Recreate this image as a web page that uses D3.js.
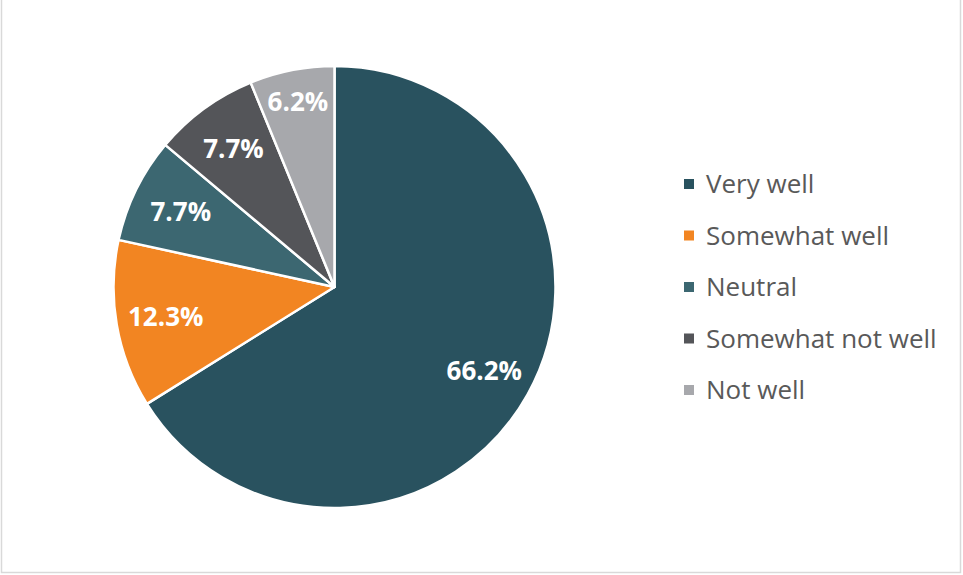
<!DOCTYPE html>
<html>
<head>
<meta charset="utf-8">
<script src="https://cdn.jsdelivr.net/npm/d3@7"></script>
<style>
  html, body { margin: 0; padding: 0; background: #fff; }
  svg { display: block; }
</style>
</head>
<body>
<svg id="chart" width="963" height="575"></svg>
<script>
// Survey responses, percent of respondents
const categories = ["Very well", "Somewhat well", "Neutral", "Somewhat not well", "Not well"];
const values = [66.2, 12.3, 7.7, 7.7, 6.2];
const colors = ["#29525f", "#f28522", "#3c6771", "#545559", "#a7a8ac"];

const svg = d3.select("#chart");
const W = 963, H = 575;

// frame: left, right and bottom edges
svg.append("path")
  .attr("d", `M1.5,0 V${H - 2.5} H${W - 2.5} V0`)
  .attr("fill", "none")
  .attr("stroke", "#d9d9d9")
  .attr("stroke-width", 1.5);

const cx = 334.5, cy = 287, R = 221;
const color = d3.scaleOrdinal().domain(categories).range(colors);

const data = categories.map((c, i) => ({ name: c, value: values[i] }));
const pie = d3.pie().sort(null).value(d => d.value);
const arc = d3.arc().innerRadius(0).outerRadius(R);

const g = svg.append("g").attr("transform", `translate(${cx},${cy})`);
const arcs = pie(data);

g.selectAll("path.slice")
  .data(arcs)
  .join("path")
  .attr("class", "slice")
  .attr("d", arc)
  .attr("fill", d => color(d.data.name))
  .attr("stroke", "#fff")
  .attr("stroke-width", 2.5)
  .attr("stroke-linejoin", "round");

const labelSize = 26;
const labels = g.selectAll("text.val")
  .data(arcs)
  .join("text")
  .attr("class", "val")
  .attr("text-anchor", "middle")
  .attr("dy", "0.36em")
  .attr("fill", "#fff")
  .attr("font-family", "'Open Sans', Lato, sans-serif")
  .attr("font-weight", "bold")
  .attr("font-size", labelSize)
  .text(d => d3.format(".1f")(d.data.value) + "%");

// Best-fit placement: start on a ring at 77.5% of the radius and move the
// label outward until its box clears both edges of its own slice.
const margin = 5;
function cross(a, x, y) {
  return Math.sin(a) * y + Math.cos(a) * x;
}
labels.each(function (d) {
  const w = this.getComputedTextLength();
  const h = labelSize * 0.72;
  const mid = (d.startAngle + d.endAngle) / 2;
  let r = R * 0.775, x, y;
  for (; r < R * 0.92; r += 0.5) {
    x = Math.sin(mid) * r;
    y = -Math.cos(mid) * r;
    const corners = [[x - w / 2, y - h / 2], [x + w / 2, y - h / 2],
                     [x - w / 2, y + h / 2], [x + w / 2, y + h / 2]];
    const ok = corners.every(([px, py]) =>
      cross(d.startAngle, px, py) >= margin &&
      cross(d.endAngle, px, py) <= -margin);
    if (ok) break;
  }
  d3.select(this).attr("transform", `translate(${x},${y})`);
});

// legend
const legend = svg.append("g").attr("transform", "translate(684,184)");
const row = legend.selectAll("g")
  .data(categories)
  .join("g")
  .attr("transform", (d, i) => `translate(0,${i * 51.5})`);

row.append("rect")
  .attr("x", 0).attr("y", -5)
  .attr("width", 10).attr("height", 10)
  .attr("fill", d => color(d));

row.append("text")
  .attr("x", 22)
  .attr("dy", "0.36em")
  .attr("fill", "#595959")
  .attr("font-family", "'Open Sans', Lato, sans-serif")
  .attr("font-size", 26)
  .text(d => d);
</script>
</body>
</html>
